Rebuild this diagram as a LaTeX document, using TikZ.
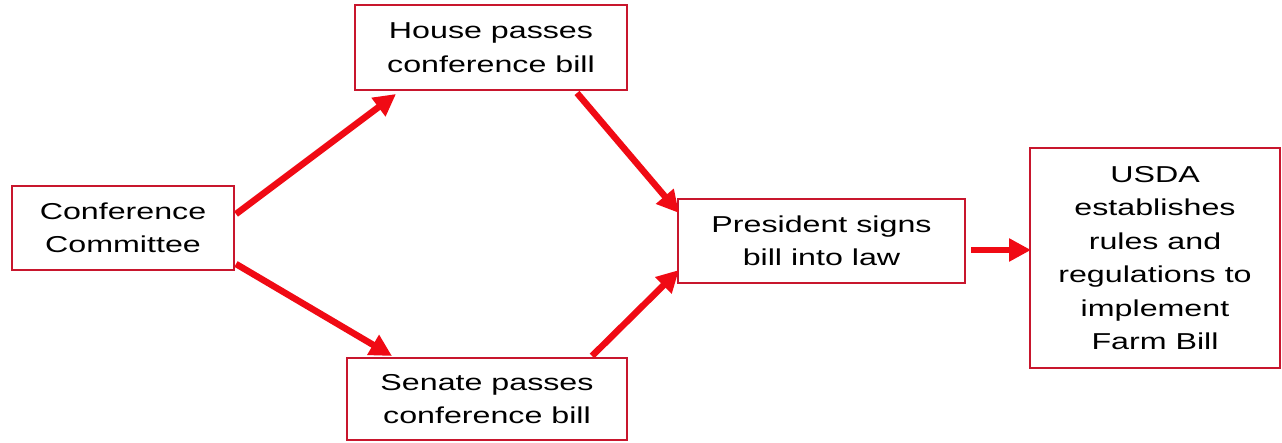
\documentclass[tikz,border=0pt]{standalone}
\usepackage{fontspec}
\setmainfont[FakeStretch=1.4]{Liberation Sans}
\usetikzlibrary{arrows.meta}
\definecolor{boxred}{RGB}{200,22,45}
\definecolor{arrred}{RGB}{240,10,20}
\begin{document}
\begin{tikzpicture}[x=1pt,y=1pt,
  box/.style={draw=boxred,line width=2pt,fill=white,align=center,inner sep=0pt,
    font=\fontsize{23}{33.5}\selectfont},
  arr/.style={draw=arrred,line width=6.5pt,-{Triangle[length=22pt,width=22pt]}}]
\useasboundingbox (0,0) rectangle (1282,442);
\fill[white] (0,0) rectangle (1282,442);
\node[box,minimum width=222pt,minimum height=84pt] (cc) at (123,214) {Conference\\Committee};
\node[box,minimum width=272pt,minimum height=85pt] (house) at (491,394.5) {House passes\\conference bill};
\node[box,minimum width=280pt,minimum height=82pt] (senate) at (487,43) {Senate passes\\conference bill};
\node[box,minimum width=287pt,minimum height=84pt] (pres) at (821.5,201) {President signs\\bill into law};
\node[box,minimum width=250pt,minimum height=220pt] (usda) at (1155,184) {USDA\\establishes\\rules and\\regulations to\\implement\\Farm Bill};
\draw[arr] ([shift={(1,14)}]cc.east) -- ([shift={(-95,-3)}]house.south);
\draw[arr] ([shift={(1,-36)}]cc.east) -- ([shift={(-95,1)}]senate.north);
\draw[arr] ([shift={(86,-2)}]house.south) -- ([shift={(2,28)}]pres.west);
\draw[arr] ([shift={(105,1)}]senate.north) -- ([shift={(2,-29)}]pres.west);
\draw[arr] ([shift={(5,-9)}]pres.east) -- ([shift={(2,8)}]usda.west);
\end{tikzpicture}
\end{document}
